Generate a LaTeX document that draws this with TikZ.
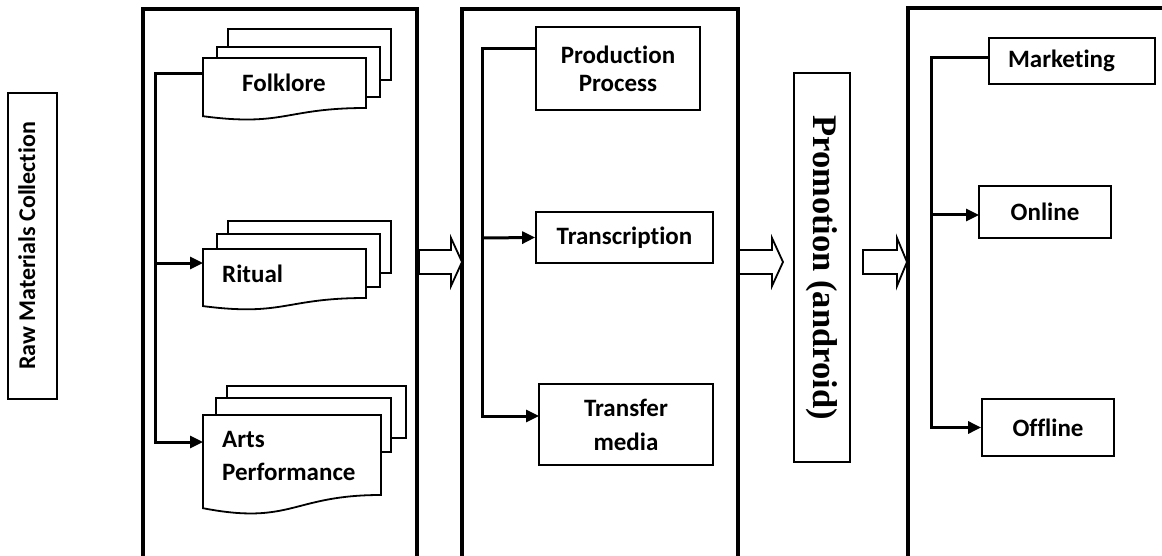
\documentclass[tikz,border=0pt]{standalone}
\usepackage{fontspec}
\setmainfont{Carlito}[Ligatures={NoCommon}]
\newfontfamily\promfont{Liberation Serif}
\usetikzlibrary{arrows.meta}
\begin{document}
\begin{tikzpicture}[x=1pt,y=-1pt,
  panel/.style={draw, line width=3.4pt},
  sheet/.style={draw, line width=1.8pt, fill=white, line join=miter},
  box/.style={draw, line width=1.8pt, inner sep=0pt, fill=white, align=center, font=\bfseries\fontsize{25}{34}\selectfont},
  doclabel/.style={inner sep=0pt, align=left, font=\bfseries\fontsize{25}{33}\selectfont},
  busarrow/.style={line width=3pt, -{Triangle[length=13pt,width=12pt]}},
  blockarrow/.style={draw, line width=1.8pt, fill=white, line join=miter}
]
\useasboundingbox (0,0) rectangle (1162,556);
\fill[white] (0,0) rectangle (1162,556);

% left label
\node[draw, line width=1.8pt, rotate=90, minimum width=306pt, minimum height=49pt, inner sep=0pt,
      text height=17pt, text depth=12pt, font=\bfseries\fontsize{24}{28}\selectfont] (raw) at (32.5,246) {Raw Materials Collection};

% panels
\draw[panel] (143,9) rectangle (417,600);
\draw[panel] (462,9) rectangle (738,600);
\draw[panel] (908,8) rectangle (1200,600);

% block arrows
\draw[blockarrow] (419,250) -- (451,250) -- (451,238) -- (462,262) -- (451,286) -- (451,274) -- (419,274) -- cycle;
\draw[blockarrow] (739,250) -- (772,250) -- (772,238) -- (783,262) -- (772,286) -- (772,274) -- (739,274) -- cycle;
\draw[blockarrow] (863,250) -- (897,250) -- (897,238) -- (907,262) -- (897,286) -- (897,274) -- (863,274) -- cycle;

% Folklore stack
\draw[sheet] (228,29) rectangle (391,80);
\draw[sheet] (217,47) rectangle (380,97);
\draw[sheet] (203,58) -- (366,58) -- (366,108) .. controls (284.5,108) and (284.5,127) .. (203,116.2) -- cycle;
\node[doclabel] (folk) at (284,83) {Folklore};
% Ritual stack
\draw[sheet] (228,221) rectangle (391,273);
\draw[sheet] (217,234) rectangle (380,287);
\draw[sheet] (203,249) -- (366,249) -- (366,298) .. controls (284.5,298) and (284.5,316.6) .. (203,306.1) -- cycle;
\node[doclabel, anchor=west] (rit) at (222,274) {Ritual};
% Arts stack
\draw[sheet] (227,386) rectangle (406,438);
\draw[sheet] (216,398) rectangle (391,452);
\draw[sheet] (203,415) -- (381,415) -- (381,495) .. controls (292,495) and (292,525.4) .. (203,508.2) -- cycle;
\node[doclabel, anchor=west] (arts) at (222,456) {Arts\\Performance};

\coordinate (folkin) at (203,74);
\coordinate (ritin) at (203,263);
\coordinate (artsin) at (203,442);
\coordinate (bus1a) at (155,74);
\coordinate (bus1b) at (155,263);
\draw[busarrow] (folkin) -- (bus1a) |- (artsin);
\draw[busarrow] (bus1b) -- (ritin);

% panel 2
\node[box, minimum width=164pt, minimum height=83pt, font=\bfseries\fontsize{25}{28}\selectfont] (prod) at (618,68.5) {Production\\Process};
\node[box, minimum width=177pt, minimum height=51pt] (trans) at (624.5,237.5) {Transcription};
\node[box, minimum width=174pt, minimum height=81pt] (tmedia) at (626,424.5) {Transfer\\media};
\coordinate (prodin) at (536,49);
\coordinate (tmin) at (539,416);
\coordinate (bus2a) at (482,49);
\coordinate (bus2b) at (482,238);
\draw[busarrow] (prodin) -- (bus2a) |- (tmin);
\draw[busarrow] (bus2b) -- (trans.west);

% promotion
\node[draw, line width=1.8pt, rotate=-90, minimum width=389pt, minimum height=56pt, inner sep=0pt,
      font=\promfont\bfseries\fontsize{34.5}{40}\selectfont] (prom) at (822,267.5) {Promotion (android)};

% panel 3
\node[box, minimum width=166pt, minimum height=46pt] (mkt) at (1072,61) {Marketing\hspace{21pt}};
\node[box, minimum width=132pt, minimum height=52pt] (onl) at (1045,212) {Online};
\node[box, minimum width=132pt, minimum height=57pt] (offl) at (1048,427.5) {Offline};
\coordinate (mkin) at (989,58);
\coordinate (onin) at (979,215);
\coordinate (bus3a) at (931,58);
\coordinate (bus3b) at (931,215);
\draw[busarrow] (mkin) -- (bus3a) |- (offl.west);
\draw[busarrow] (bus3b) -- (onin);
\end{tikzpicture}
\end{document}
